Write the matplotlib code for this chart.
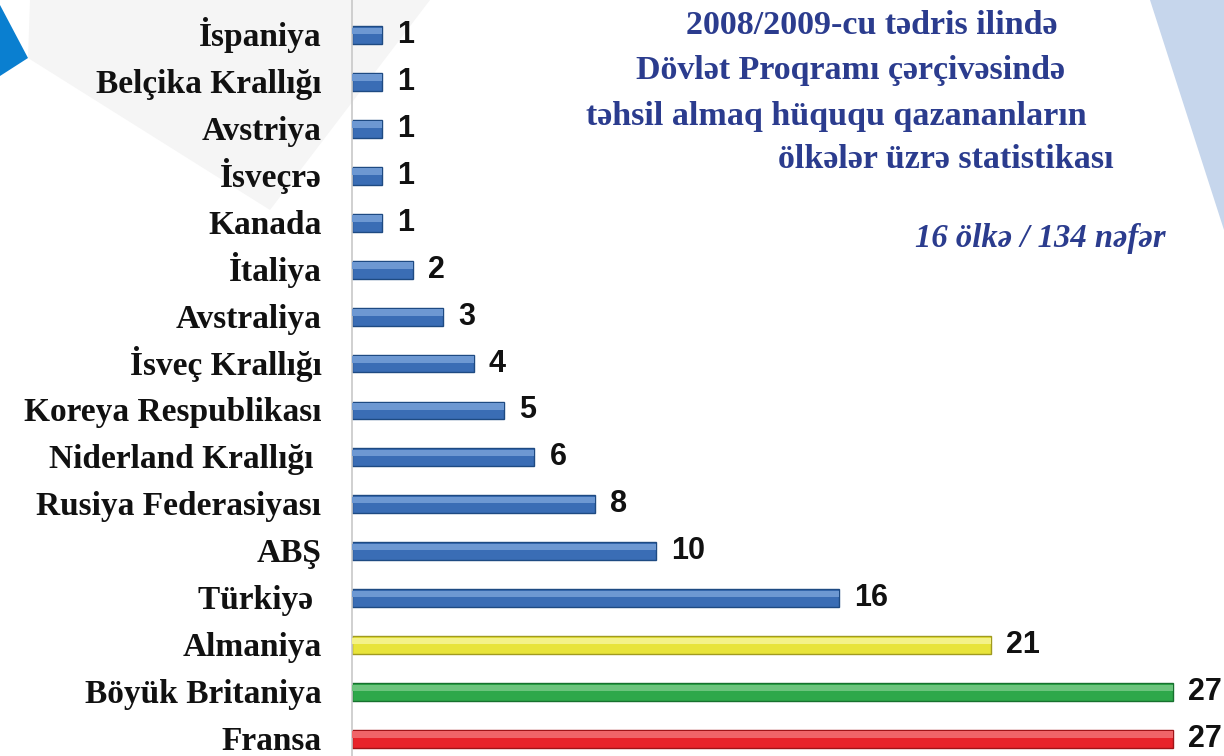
import numpy as np
import matplotlib
matplotlib.use("Agg")
from matplotlib import pyplot as plt
from matplotlib.patches import Polygon
from matplotlib import transforms

countries = ["İspaniya", "Belçika Krallığı", "Avstriya", "İsveçrə", "Kanada",
             "İtaliya", "Avstraliya", "İsveç Krallığı", "Koreya Respublikası",
             "Niderland Krallığı ", "Rusiya Federasiyası", "ABŞ", "Türkiyə ",
             "Almaniya", "Böyük Britaniya", "Fransa"]
students = [1, 1, 1, 1, 1, 2, 3, 4, 5, 6, 8, 10, 16, 21, 27, 27]
barColors = ["#3a6db5"] * 13 + ["#e8e43a", "#2ea84a", "#e8232a"]
edgeColors = ["#1e4a82"] * 13 + ["#a09a20", "#17702e", "#a01418"]
lightColors = ["#6d98d2"] * 13 + ["#f4f288", "#6cc47d", "#f06468"]

titleLines = ["2008/2009-cu tədris ilində",
              "Dövlət Proqramı çərçivəsində",
              "təhsil almaq hüququ qazananların",
              "ölkələr üzrə statistikası"]
subtitle = "16 ölkə / 134 nəfər"

W, H = 1224, 756
fig = plt.figure(figsize=(W / 100, H / 100), dpi=100)
fig.patch.set_facecolor("white")

# background decorations, behind everything
bg = fig.add_axes([0, 0, 1, 1], zorder=-1)
bg.set_xlim(0, W)
bg.set_ylim(H, 0)
bg.axis("off")
bg.add_patch(Polygon([[30, 0], [430, 0], [270, 210], [28, 58]], closed=True,
                     facecolor="#f5f5f5", edgecolor="none"))
bg.add_patch(Polygon([[0, 5], [28, 58], [0, 76]], closed=True,
                     facecolor="#0a7fd0", edgecolor="none"))
bg.add_patch(Polygon([[1150, 0], [W, 0], [W, 230]], closed=True,
                     facecolor="#c6d6ec", edgecolor="none"))

ax = fig.add_axes([352 / W, 0, 1 - 352 / W, 1])
ax.set_facecolor("none")

y = np.arange(len(countries))
ax.barh(y, students, height=0.38, color=barColors, edgecolor=edgeColors, linewidth=1.0, zorder=2)
ax.barh(y - 0.09, students, height=0.14, color=lightColors, edgecolor="none", zorder=3)

for yi, v in zip(y, students):
    ax.text(v + 0.5, yi, str(v), va="center", ha="left", fontsize=22, fontweight="bold",
            family=["Liberation Sans Narrow", "Liberation Sans"], color="#111111")

xmax = 27 * (W - 352) / (1173 - 352)
ax.set_xlim(0, xmax)
ax.set_ylim(15 + 17 / 46.9, -35 / 46.9)

ax.set_yticks(y)
ax.set_yticklabels(countries, fontsize=24, fontweight="bold", family="Liberation Serif",
                   color="#111111", va="baseline")
ax.tick_params(axis="y", length=0, pad=22)
# put each baseline ~11 px under its bar centre
shift = transforms.ScaledTranslation(0, -11 / 100, fig.dpi_scale_trans)
for lab in ax.get_yticklabels():
    lab.set_transform(lab.get_transform() + shift)
ax.set_xticks([])
for s in ["top", "right", "bottom"]:
    ax.spines[s].set_visible(False)
ax.spines["left"].set_color("#c8c8c8")
ax.spines["left"].set_linewidth(1.2)

titleLeft = [686, 636, 586, 778]
titleY = [26, 71, 116, 160]
for line, x0, y0 in zip(titleLines, titleLeft, titleY):
    fig.text(x0 / W, 1 - y0 / H, line, ha="left", va="center", fontsize=24.5, fontweight="bold",
             family="Liberation Serif", color="#2b3c8e")
fig.text(915 / W, 1 - 238 / H, subtitle, ha="left", va="center", fontsize=23.5, fontweight="bold",
         style="italic", family="Liberation Serif", color="#2b3c8e")

fig.savefig("out.png", dpi=100)
